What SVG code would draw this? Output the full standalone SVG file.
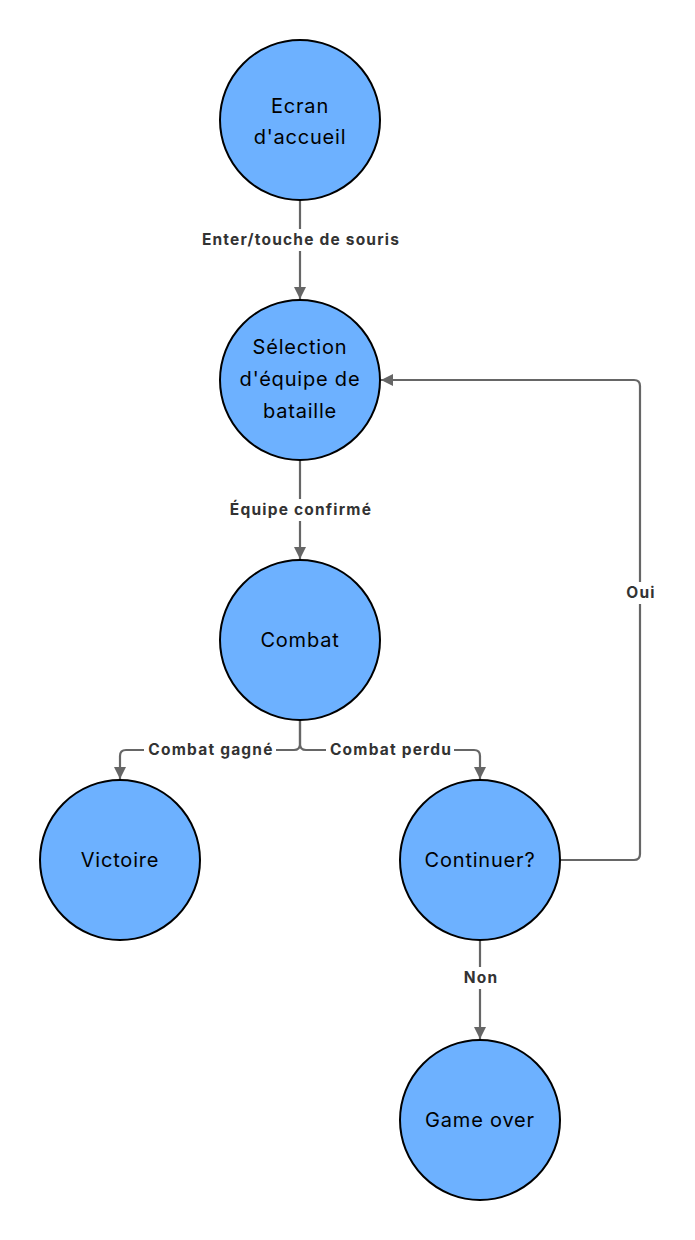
<svg xmlns="http://www.w3.org/2000/svg" width="695" height="1240" viewBox="0 0 695 1240">
<style>
.node{fill:#6db1ff;stroke:#000;stroke-width:2}
.nt{font-family:Inter,"Liberation Sans",sans-serif;font-size:20px;letter-spacing:0.8px;fill:#000;text-anchor:middle}
.edge{fill:none;stroke:#666;stroke-width:2.2}
.lbl{font-family:Inter,"Liberation Sans",sans-serif;font-size:15.5px;letter-spacing:1.2px;font-weight:bold;fill:#333;text-anchor:middle}
.bg{fill:#fff}
</style>
<defs>
<marker id="arr" viewBox="0 0 10 10" refX="10" refY="5" markerWidth="5.5" markerHeight="5.5" orient="auto" markerUnits="strokeWidth">
<path d="M0,0 L10,5 L0,10 z" fill="#666"/>
</marker>
</defs>
<rect width="695" height="1240" fill="#fff"/>
<g id="connectors">
<path class="edge" d="M300,200 V299" marker-end="url(#arr)"/>
<path class="edge" d="M300,460 V559" marker-end="url(#arr)"/>
<path class="edge" d="M300,720 V744 Q300,750 294,750 H126 Q120,750 120,756 V779" marker-end="url(#arr)"/>
<path class="edge" d="M300,720 V744 Q300,750 306,750 H474 Q480,750 480,756 V779" marker-end="url(#arr)"/>
<path class="edge" d="M560,860 H634 Q640,860 640,854 V386 Q640,380 634,380 H381" marker-end="url(#arr)"/>
<path class="edge" d="M480,940 V1039" marker-end="url(#arr)"/>
<rect class="bg" x="198" y="229" width="204" height="22"/>
<text class="lbl" x="301" y="245">Enter/touche de souris</text>
<rect class="bg" x="224" y="499" width="152" height="22"/>
<text class="lbl" x="301" y="515">Équipe confirmé</text>
<rect class="bg" x="144" y="739" width="132" height="22"/>
<text class="lbl" x="211" y="755">Combat gagné</text>
<rect class="bg" x="326" y="739" width="128" height="22"/>
<text class="lbl" x="391" y="755">Combat perdu</text>
<rect class="bg" x="622" y="582" width="36" height="22"/>
<text class="lbl" x="641" y="598">Oui</text>
<rect class="bg" x="458" y="967" width="44" height="22"/>
<text class="lbl" x="481" y="983">Non</text>
</g>
<g id="n1"><circle class="node" cx="300" cy="120" r="80"/><text class="nt" x="300" y="113">Ecran</text><text class="nt" x="300" y="144">d'accueil</text></g>
<g id="n2"><circle class="node" cx="300" cy="380" r="80"/><text class="nt" x="300" y="354">Sélection</text><text class="nt" x="300" y="386">d'équipe de</text><text class="nt" x="300" y="418">bataille</text></g>
<g id="n3"><circle class="node" cx="300" cy="640" r="80"/><text class="nt" x="300" y="647">Combat</text></g>
<g id="n4"><circle class="node" cx="120" cy="860" r="80"/><text class="nt" x="120" y="867">Victoire</text></g>
<g id="n5"><circle class="node" cx="480" cy="860" r="80"/><text class="nt" x="480" y="867">Continuer?</text></g>
<g id="n6"><circle class="node" cx="480" cy="1120" r="80"/><text class="nt" x="480" y="1127">Game over</text></g>
</svg>
